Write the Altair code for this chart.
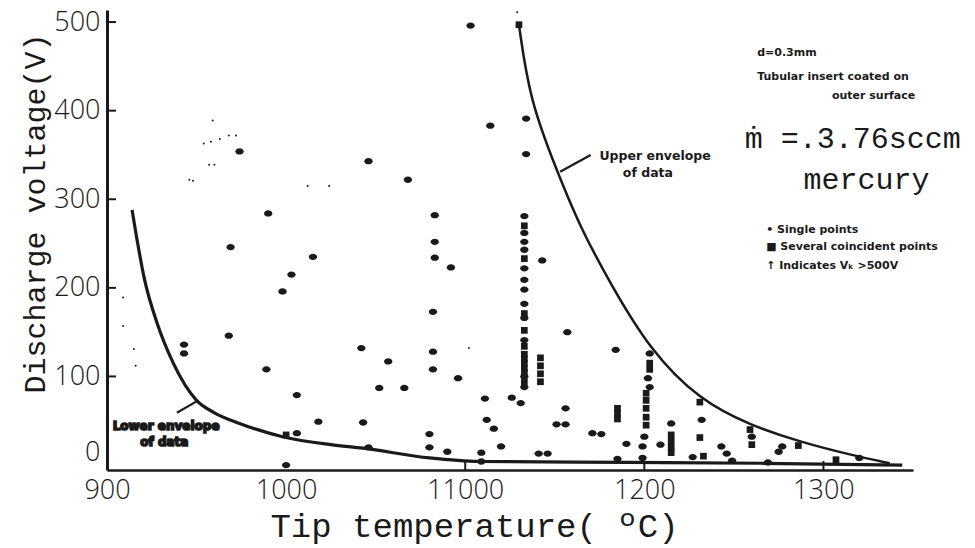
import altair as alt
import pandas as pd

# Single measured points: tip temperature (deg C) and discharge voltage (V)
single_temp = [1103, 974, 1046, 1068, 990, 1083, 969, 1083, 1015, 1083, 1092, 1003, 998,
               943, 943, 968, 989, 1006, 1018, 1006, 1000, 1082, 1042, 1082, 1057, 1082,
               1096, 1052, 1066, 1111, 1126, 1131, 1043, 1112, 1116, 1080, 1080, 1046,
               1090, 1109, 1109, 1120, 1141, 1146, 1157, 1156, 1151, 1156, 1184, 1171,
               1176, 1190, 1185, 1199, 1134, 1134, 1114, 1143,
               1133, 1133, 1133, 1133, 1133, 1133, 1133, 1133, 1133, 1133, 1133, 1133,
               1203, 1202, 1203, 1200, 1199, 1209, 1215, 1232, 1227, 1243, 1246, 1249,
               1260, 1269, 1275, 1277, 1320]
single_volt = [496, 354, 343, 322, 284, 282, 246, 252, 235, 234, 223, 215, 196,
               136, 126, 146, 108, 79, 49, 36, 0, 173, 132, 128, 117, 108,
               98, 87, 87, 75, 76, 70, 48, 51, 41, 35, 20, 20,
               15, 14, 4, 21, 13, 13, 150, 64, 46, 46, 130, 36,
               35, 24, 7, 8, 391, 351, 383, 231,
               281, 262, 252, 243, 222, 209, 198, 182, 166, 141, 100, 88,
               126, 98, 88, 32, 21, 23, 47, 51, 9, 21, 13, 5,
               32, 3, 15, 21, 8]

# Several coincident points
multi_temp = [1130, 1000,
              1133, 1133, 1133, 1133, 1133, 1133, 1133, 1133, 1133, 1133, 1133,
              1142, 1142, 1142, 1142, 1185, 1185, 1185, 1203, 1203,
              1201, 1201, 1201, 1201, 1201, 1215, 1215, 1215, 1215,
              1231, 1231, 1233, 1259, 1260, 1286, 1307]
multi_volt = [497, 34,
              270, 233, 171, 152, 134, 125, 120, 115, 109, 104, 94,
              121, 112, 103, 94, 64, 58, 52, 115, 108,
              81, 73, 64, 54, 45, 34, 27, 20, 14,
              71, 31, 10, 40, 23, 22, 6]

# Faint isolated readings
faint_temp = [959, 954, 958, 963, 968, 972, 957, 960, 946, 948, 1012, 1024,
              909, 909, 915, 916, 1102, 1129]
faint_volt = [389, 363, 365, 368, 372, 372, 339, 339, 322, 321, 315, 315,
              189, 157, 131, 112, 132, 511]

# Envelopes of the data
lower_temp = [914, 921, 928, 937, 950, 960, 974, 998, 1025, 1043, 1080, 1108, 1192, 1265, 1344]
lower_volt = [288, 209, 160, 115, 73, 59, 47, 32, 23, 19, 8, 4, 3, 2, 0]
upper_temp = [1130, 1136, 1151, 1164, 1181, 1203, 1231, 1259, 1287, 1316, 1337]
upper_volt = [497, 412, 333, 269, 205, 130, 73, 45, 26, 11, 2]

x_ticks = [900, 1000, 1100, 1200, 1300]
y_ticks = [0, 100, 200, 300, 400, 500]

INK = "#1a1a1a"
MONO = "Liberation Mono"
SANS = "DejaVu Sans"

x_scale = alt.Scale(domain=[900, 1350], nice=False, zero=False)
y_scale = alt.Scale(domain=[-5.6, 513.6], nice=False, zero=False)

singles = pd.DataFrame({"temp": single_temp, "volt": single_volt})
multis = pd.DataFrame({"temp": multi_temp, "volt": multi_volt})
faint = pd.DataFrame({"temp": faint_temp, "volt": faint_volt})
lower = pd.DataFrame({"temp": lower_temp, "volt": lower_volt})
upper = pd.DataFrame({"temp": upper_temp, "volt": upper_volt})

x_axis = alt.Axis(
    values=x_ticks, format="d",
    labelExpr="datum.value == 1100 ? '11000' : datum.label",
    ticks=False, grid=False, domainColor=INK, domainWidth=2.5,
    labelFont="Open Sans", labelFontSize=27, labelFontWeight=300, labelColor=INK,
    labelPadding=7, labelFlush=False,
    title="Tip temperature( ºC)", titleFont=MONO, titleFontSize=34,
    titleFontWeight="normal", titleColor=INK, titleX=367, titleY=66,
    titleAlign="center", titleBaseline="alphabetic",
)
y_axis = alt.Axis(
    values=y_ticks, ticks=False, grid=False, domainColor=INK, domainWidth=3,
    labelFont="Open Sans", labelFontSize=27, labelFontWeight=300, labelColor=INK,
    labelPadding=7, labelFlush=False,
    labelOffset={"condition": {"test": "datum.value == 0", "value": -13}, "value": 0},
    title="Discharge voltage(V)", titleFont=MONO, titleFontSize=30,
    titleFontWeight="normal", titleColor=INK, titleAngle=270, titleX=-63,
    titleY=203, titleAlign="center", titleBaseline="alphabetic",
)


def xq():
    return alt.X("temp:Q", scale=x_scale, axis=x_axis)


def yq():
    return alt.Y("volt:Q", scale=y_scale, axis=y_axis)


ellipse = "M-1,0A1,0.75,0,1,1,1,0A1,0.75,0,1,1,-1,0Z"

single_layer = alt.Chart(singles).mark_point(
    shape=ellipse, filled=True, size=70, color=INK, opacity=1
).encode(x=xq(), y=yq())
multi_layer = alt.Chart(multis).mark_square(size=45, color=INK, opacity=1).encode(x=xq(), y=yq())
faint_layer = alt.Chart(faint).mark_circle(size=4, color=INK, opacity=1).encode(x=xq(), y=yq())

lower_line = alt.Chart(lower).mark_line(
    color=INK, strokeWidth=3.2, interpolate="monotone"
).encode(x=xq(), y=yq())
upper_line = alt.Chart(upper).mark_line(
    color=INK, strokeWidth=2.5, interpolate="basis"
).encode(x=xq(), y=yq())

# Inward tick marks on both axes
y_tick_df = pd.DataFrame({"volt": [100, 200, 300, 400, 500]})
y_tick_layer = alt.Chart(y_tick_df).mark_rule(color=INK, strokeWidth=2).encode(
    y=yq(), x=alt.value(0), x2=alt.value(9)
)
x_tick_df = pd.DataFrame({"temp": [1100, 1200, 1300]})
x_tick_layer = alt.Chart(x_tick_df).mark_rule(color=INK, strokeWidth=2).encode(
    x=xq(), y=alt.value(460), y2=alt.value(451)
)

# Leader lines for the envelope labels
pointer_df = pd.DataFrame({
    "temp": [1170, 939], "volt": [350, 59],
    "temp2": [1153, 951], "volt2": [331, 73],
})
pointer_layer = alt.Chart(pointer_df).mark_rule(color=INK, strokeWidth=2.2).encode(
    x=xq(), y=yq(), x2="temp2:Q", y2="volt2:Q"
)


def note(df, **kw):
    return alt.Chart(pd.DataFrame(df)).mark_text(color=INK, **kw).encode(
        x=xq(), y=yq(), text="label:N"
    )


upper_note = note(
    {"temp": [1206, 1202], "volt": [349, 330], "label": ["Upper envelope", "of data"]},
    font=SANS, fontSize=12.5, fontWeight="bold", align="center", baseline="middle",
)
lower_note = note(
    {"temp": [933, 932], "volt": [44, 26], "label": ["Lower envelope", "of data"]},
    font=SANS, fontSize=12, fontWeight="bold", align="center", baseline="middle",
    stroke=INK, strokeWidth=1.6,
)
cond_note = note(
    {"temp": [1263, 1263], "volt": [465, 438], "label": ["d=0.3mm", "Tubular insert coated on"]},
    font=SANS, fontSize=11, fontWeight="bold", align="left", baseline="middle",
)
cond_note2 = note(
    {"temp": [1328], "volt": [416], "label": ["outer surface"]},
    font=SANS, fontSize=11, fontWeight="bold", align="center", baseline="middle",
)
flow_note = note(
    {"temp": [1256], "volt": [368], "label": ["ṁ =.3.76sccm"]},
    font=MONO, fontSize=30, align="left", baseline="middle",
)
gas_note = note(
    {"temp": [1324], "volt": [322], "label": ["mercury"]},
    font=MONO, fontSize=30, align="center", baseline="middle",
)
key_note = note(
    {"temp": [1268, 1268, 1268], "volt": [265, 246, 225],
     "label": ["•  Single points", "■  Several coincident points", "↑  Indicates Vₖ >500V"]},
    font=SANS, fontSize=11, fontWeight="bold", align="left", baseline="middle",
)

chart = alt.layer(
    single_layer, multi_layer, faint_layer, lower_line, upper_line,
    y_tick_layer, x_tick_layer, pointer_layer,
    upper_note, lower_note, cond_note, cond_note2, flow_note, gas_note, key_note,
).properties(
    width=806, height=460,
    padding={"left": 107, "top": 10, "right": 62, "bottom": 78},
    autosize=alt.AutoSizeParams(type="none"),
    background="white",
).configure_view(stroke=None)

chart.save("out.html", embed_options={"renderer": "svg", "actions": False})
